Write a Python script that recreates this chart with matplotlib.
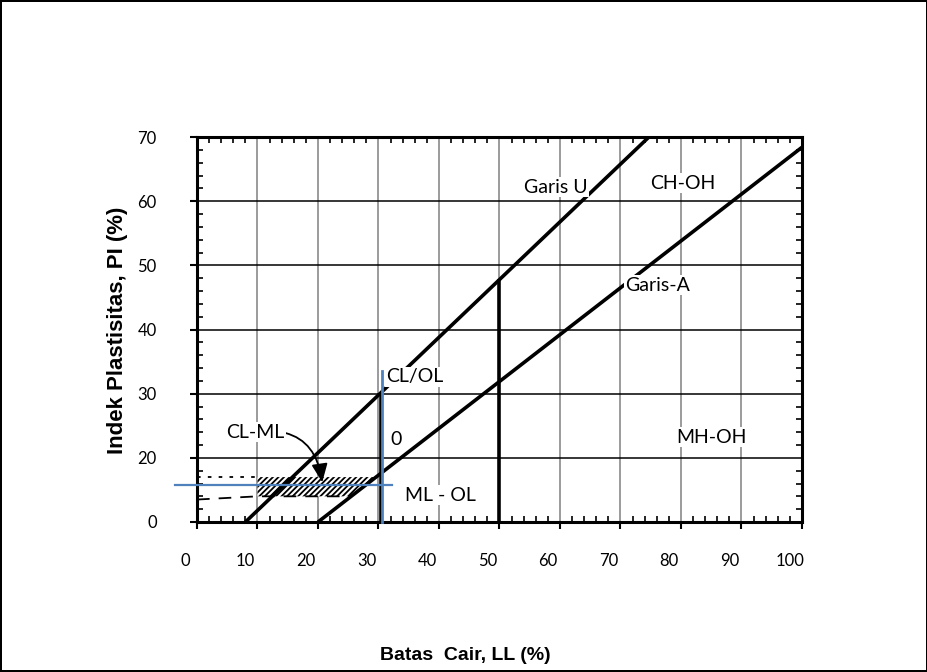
import numpy as np
import matplotlib
matplotlib.use('Agg')
import matplotlib.pyplot as plt
import matplotlib.transforms as mtransforms
from matplotlib.ticker import MultipleLocator

# Ticks (the picture labels the y gridlines 0, 20, 30, ... 70)
ll_ticks = [0, 10, 20, 30, 40, 50, 60, 70, 80, 90, 100]
pi_ticks = [0, 10, 20, 30, 40, 50, 60]
pi_tick_labels = ['0', '20', '30', '40', '50', '60', '70']

# Garis U and Garis A
u_line_ll = [8, 74.7]
u_line_pi = [0, 60]
a_line_ll = [20, 100]
a_line_pi = [0, 58.4]

# Vertical boundaries
ll50_ll = [50, 50]
ll50_pi = [0, 37.8]
ll30_ll = [30.4, 30.4]
ll30_pi = [0, 20.2]

# Sample point (blue cross lines)
sample_v_ll = [30.6, 30.6]
sample_v_pi = [0, 23.5]
sample_h_ll = [-3.6, 32.2]
sample_h_pi = [5.8, 5.8]

# CL-ML zone
hatch_ll = [10, 29.6, 25.5, 10]
hatch_pi = [7, 7, 4, 4]
dotted_ll = [0, 10]
dotted_pi = [7, 7]
dashed_ll = [0, 10, 25.5]
dashed_pi = [3.5, 4, 4]

# Zone labels
zone_labels = ['Garis U', 'CH-OH', 'Garis-A', 'CL/OL', '0', 'ML - OL', 'MH-OH']
zone_ll = [59.3, 80.3, 76.2, 36.0, 32.9, 40.3, 85.1]
zone_pi = [52.2, 52.8, 36.9, 22.6, 12.8, 4.2, 13.2]
clml_text = (9.6, 14.0)
clml_arrow = (20.7, 6.2)

plt.rcParams['hatch.linewidth'] = 1.3

fig = plt.figure(figsize=(9.28, 6.72), dpi=100)
fig.patch.set_edgecolor('black')
fig.patch.set_linewidth(1.5)
ax = fig.add_axes([197 / 928, 1 - 522 / 672, 605 / 928, 385 / 672])

ax.set_xlim(0, 100)
ax.set_ylim(0, 60)
ax.set_xticks(ll_ticks)
ax.set_xticklabels([str(v) for v in ll_ticks], fontfamily='Lato', fontsize=12)
ax.set_yticks(pi_ticks)
ax.set_yticklabels(pi_tick_labels, fontfamily='Lato', fontsize=12)
ax.xaxis.set_minor_locator(MultipleLocator(2))
ax.yaxis.set_minor_locator(MultipleLocator(2))

ax.tick_params(which='major', direction='out', length=5, width=1.5, pad=17)
ax.tick_params(axis='y', which='major', pad=24)
ax.tick_params(which='minor', direction='in', length=4, width=1.2,
               top=True, right=True)
for s in ax.spines.values():
    s.set_linewidth(2.2)

# shift x tick labels a little left, like the reference
offset = mtransforms.ScaledTranslation(-12 / 100, 0, fig.dpi_scale_trans)
for lab in ax.get_xticklabels():
    lab.set_transform(lab.get_transform() + offset)

ax.grid(axis='y', color='black', linewidth=1.1, zorder=0)
ax.grid(axis='x', color='#808080', linewidth=1.1, zorder=0)
ax.set_axisbelow(True)

# hatched CL-ML zone
ax.fill(hatch_ll, hatch_pi, facecolor='white', edgecolor='black', linewidth=0,
        hatch='//////', zorder=2)
ax.plot(dotted_ll, dotted_pi, color='black', linestyle=(0, (2, 4)), linewidth=1.3, zorder=3)
ax.plot(dashed_ll, dashed_pi, color='black', linestyle=(0, (7, 5)), linewidth=1.3, zorder=3)

lw = 2.6
ax.plot(u_line_ll, u_line_pi, color='black', linewidth=lw, zorder=4, solid_capstyle='butt')
ax.plot(a_line_ll, a_line_pi, color='black', linewidth=lw, zorder=4, solid_capstyle='butt')
ax.plot(ll50_ll, ll50_pi, color='black', linewidth=lw, zorder=4, solid_capstyle='butt')
ax.plot(ll30_ll, ll30_pi, color='black', linewidth=lw, zorder=4, solid_capstyle='butt')

ax.plot(sample_v_ll, sample_v_pi, color='#4f81bd', linewidth=2, zorder=5, clip_on=False)
ax.plot(sample_h_ll, sample_h_pi, color='#4f81bd', linewidth=1.6, zorder=5, clip_on=False)

box = dict(facecolor='white', edgecolor='none', pad=1)
for txt, x, y in zip(zone_labels, zone_ll, zone_pi):
    b = None if txt == '0' else box
    ax.text(x, y, txt, fontfamily='Lato', fontsize=14, ha='center', va='center',
            bbox=b, zorder=6)

ax.annotate('CL-ML', xy=clml_arrow, xytext=clml_text, fontfamily='Lato', fontsize=14,
            ha='center', va='center', bbox=box, zorder=6,
            arrowprops=dict(arrowstyle='-|>,head_length=0.8,head_width=0.35',
                            connectionstyle='arc3,rad=-0.5', color='black',
                            lw=1.3, shrinkA=0, shrinkB=0, mutation_scale=14))

fig.text(118 / 928, 1 - 330 / 672, 'Indek Plastisitas, PI (%)', rotation=90,
         ha='center', va='center', fontfamily='Liberation Sans', fontweight='bold',
         fontsize=16)
fig.text(465 / 928, 1 - 655 / 672, 'Batas  Cair, LL (%)', ha='center', va='center',
         fontfamily='Liberation Sans', fontweight='bold', fontsize=14)

fig.savefig('out.png', dpi=100, edgecolor=fig.get_edgecolor())
